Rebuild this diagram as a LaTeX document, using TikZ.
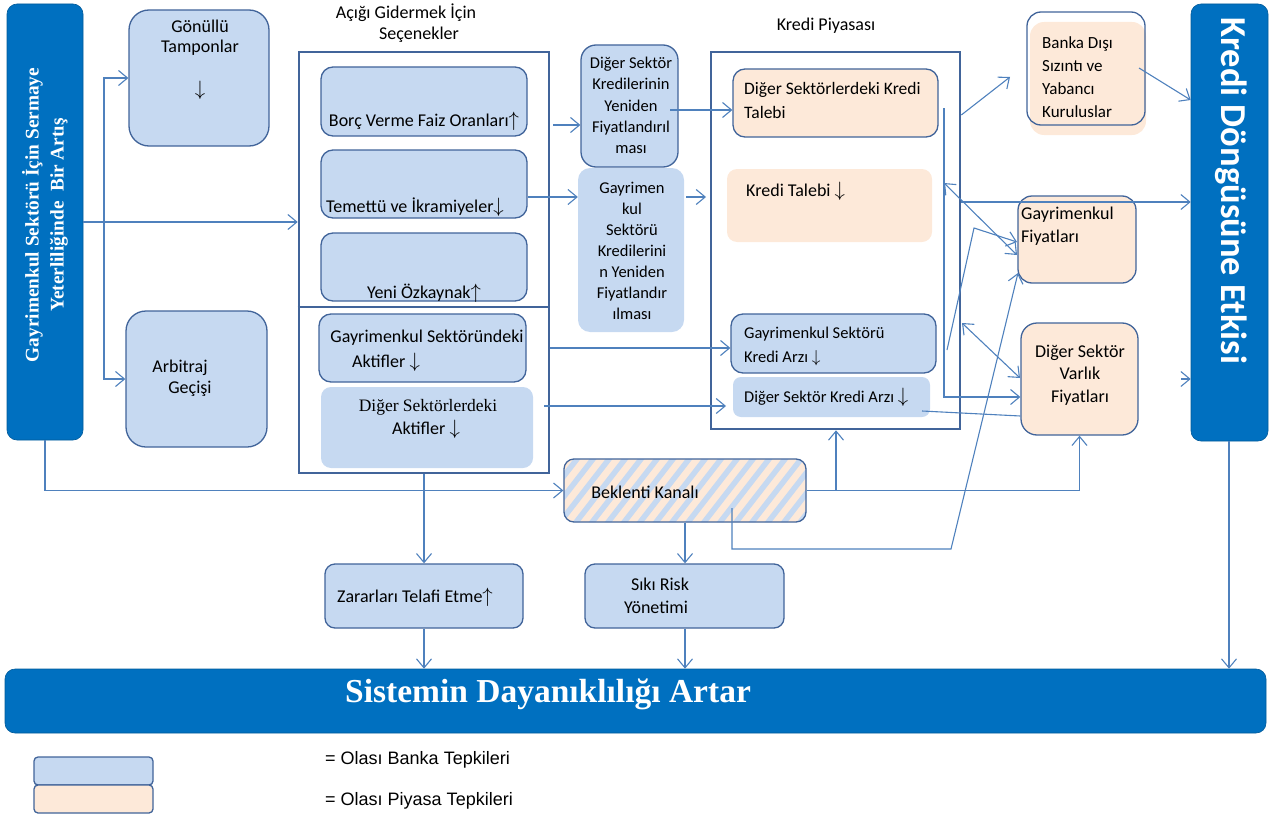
\documentclass[tikz,border=0pt]{standalone}
\usepackage{fontspec}
\setmainfont{Carlito}
\newfontfamily\tms{Liberation Serif}
\newfontfamily\arl{Liberation Sans}
\usetikzlibrary{arrows.meta,fit}
\definecolor{dblue}{HTML}{0070C0}
\definecolor{lblue}{HTML}{C6D9F1}
\definecolor{peach}{HTML}{FDE9D9}
\definecolor{bord}{HTML}{41649A}
\definecolor{conc}{HTML}{4F81BD}
\newcommand\UA{\smash{\fontsize{21}{21}\selectfont$\uparrow$}}
\newcommand\DA{\smash{\fontsize{21}{21}\selectfont$\downarrow$}}
\newcommand\DAs{\smash{\fontsize{18}{18}\selectfont$\downarrow$}}
\tikzset{
  bx/.style={draw=bord, line width=1.3pt, inner sep=0pt},
  lb/.style={bx, fill=lblue, rounded corners=12pt},
  lbn/.style={fill=lblue, inner sep=0pt, rounded corners=10pt},
  pb/.style={bx, fill=peach, rounded corners=12pt},
  pbn/.style={fill=peach, inner sep=0pt, rounded corners=10pt},
  db/.style={fill=dblue, draw=dblue!80!black, line width=0.6pt, inner sep=0pt, rounded corners=10pt},
  frame/.style={draw=bord, line width=2.6pt, inner sep=0pt},
  tx/.style={inner sep=0pt, font=\fontsize{18}{23}\selectfont},
  txs/.style={inner sep=0pt, font=\fontsize{16.5}{22}\selectfont},
  conn/.style={draw=conc, line width=1.1pt, -{Straight Barb[length=9pt,width=15pt]}},
  plain/.style={draw=conc, line width=1.1pt},
  both/.style={draw=conc, line width=1.1pt, {Straight Barb[length=9pt,width=15pt]}-{Straight Barb[length=9pt,width=15pt]}},
}
\begin{document}
\begin{tikzpicture}[x=1pt,y=-1pt]
\useasboundingbox (0,0) rectangle (1271,816);
% ---------- left column
\node[db, fit={(7,4)(83,440)}] (lbar) {};
\node[rotate=90, align=center, text=white, inner sep=0pt,
  font=\tms\bfseries\fontsize{19.3}{25}\selectfont] (lbart) at (45,215)
  {Gayrimenkul Sektörü İçin Sermaye\\Yeterliliğinde\ \ Bir Artış};
\node[lb, rounded corners=20pt, fit={(129,10)(269,146)}] (gon) {};
\node[tx] (gon1) at (200,26) {Gönüllü};
\node[tx] (gon2) at (200,48) {Tamponlar};
\node[tx] (gon3) at (200,95) {\DA};
\node[lb, rounded corners=20pt, fit={(126,311)(267,447)}] (arb) {};
\node[tx] (arb1) at (180,368) {Arbitraj};
\node[tx] (arb2) at (190,389) {Geçişi};
% ---------- options box
\node[tx] (optt1) at (406,13) {Açığı Gidermek İçin};
\node[tx] (optt2) at (419,35) {Seçenekler};
\node[frame, fit={(299,52)(549,473)}] (opts) {};
\draw[draw=bord, line width=2.6pt] (opts.west |- 0,307) -- (opts.east |- 0,307);
\node[lb, fit={(321,67)(527,136)}] (borc) {};
\node[tx] (borct) at (424,122) {Borç Verme Faiz Oranları\UA};
\node[lb, fit={(321,150)(527,218)}] (tem) {};
\node[tx, anchor=west] (temt) at (326,207) {Temettü ve İkramiyeler\DA};
\node[lb, fit={(321,233)(527,301)}] (yeni) {};
\node[tx] (yenit) at (424,293) {Yeni Özkaynak\UA};
\node[lb, fit={(319,314)(526,382)}] (gsa) {};
\node[tx] (gsat1) at (427,338) {Gayrimenkul Sektöründeki};
\node[tx] (gsat2) at (386,361) {Aktifler \DA};
\node[lbn, fit={(321,387)(533,468)}] (dsa) {};
\node[inner sep=0pt, font=\tms\fontsize{17.5}{22}\selectfont] (dsat1) at (428,407) {Diğer Sektörlerdeki};
\node[tx] (dsat2) at (426,428) {Aktifler \DA};
% ---------- repricing
\node[lb, rounded corners=15pt, fit={(581,45)(678,167)}] (dsr) {};
\node[inner sep=0pt, align=center, font=\fontsize{16.5}{21.2}\selectfont] (dsrt) at (631,105.5)
  {Diğer Sektör\\Kredilerinin\\Yeniden\\Fiyatlandırıl\\ması};
\node[lbn, rounded corners=12pt, fit={(578,168)(684,332)}] (gsr) {};
\node[inner sep=0pt, align=center, font=\fontsize{16.5}{21.1}\selectfont] (gsrt) at (632,251)
  {Gayrimen\\kul\\Sektörü\\Kredilerini\\n Yeniden\\Fiyatlandır\\ılması};
% ---------- credit market
\node[tx] (kpt) at (826,26) {Kredi Piyasası};
\node[frame, fit={(711,52)(960,429)}] (kp) {};
\node[pb, fit={(733,69)(938,137)}] (dkt) {};
\node[tx, anchor=west, align=left, font=\fontsize{17.5}{24}\selectfont] (dktt) at (744,100) {Diğer Sektörlerdeki Kredi\\Talebi};
\node[pbn, fit={(727,169)(932,242)}] (kt) {};
\node[tx, anchor=west] (ktt) at (746,190) {Kredi Talebi \DA};
\node[lb, fit={(731,314)(936,373)}] (gka) {};
\node[txs, anchor=west] (gkat1) at (744,334) {Gayrimenkul Sektörü};
\node[txs, anchor=west] (gkat2) at (744,357) {Kredi Arzı \DAs};
\node[lbn, rounded corners=8pt, fit={(733,377)(930,417)}] (dka) {};
\node[txs, anchor=west] (dkat) at (744,398) {Diğer Sektör Kredi Arzı \DA};
% ---------- right column
\node[fill=peach, inner sep=0pt, rounded corners=14pt, fit={(1030,22)(1146,135)}] (bdf) {};
\node[bx, rounded corners=14pt, fit={(1027,12)(1145,125)}] (bd) {};
\node[tx, anchor=west, align=left, font=\fontsize{17}{23}\selectfont] (bdt) at (1042,77.5) {Banka Dışı\\Sızıntı ve\\Yabancı\\Kuruluslar};
\node[pb, rounded corners=14pt, fit={(1018,196)(1136,283)}] (gf) {};
\node[tx, anchor=west, align=left] (gft) at (1021,226) {Gayrimenkul\\Fiyatları};
\node[pb, rounded corners=16pt, fit={(1021,323)(1138,435)}] (dsv) {};
\node[tx, align=center, font=\fontsize{18}{22.5}\selectfont] (dsvt) at (1080,375) {Diğer Sektör\\Varlık\\Fiyatları};
\node[db, fit={(1191,4)(1268,441)}] (kde) {};
\node[rotate=-90, text=white, inner sep=0pt, font=\bfseries\fontsize{36.5}{40}\selectfont] (kdet) at (1231,191) {Kredi Döngüsüne Etkisi};
% ---------- lower row
\begin{scope}
  \clip[rounded corners=10pt] (564,459) rectangle (806,522);
  \fill[peach] (560,455) rectangle (810,526);
  \foreach \i in {0,...,21} \draw[lblue, line width=5.5pt] ({490+\i*16},530) -- ++(62,-80);
\end{scope}
\node[bx, rounded corners=10pt, fit={(564,459)(806,522)}] (bk) {};
\node[tx] (bkt) at (645,492) {Beklenti Kanalı};
\node[lb, rounded corners=10pt, fit={(325,564)(523,628)}] (zar) {};
\node[tx] (zart) at (415,596) {Zararları Telafi Etme\UA};
\node[lb, rounded corners=10pt, fit={(585,564)(784,628)}] (sik) {};
\node[tx] (sikt1) at (660,584) {Sıkı Risk};
\node[tx] (sikt2) at (656,607) {Yönetimi};
\node[db, fit={(5,669)(1266,733)}] (sis) {};
\node[text=white, inner sep=0pt, font=\tms\bfseries\fontsize{33.5}{36}\selectfont] (sist) at (548,694) {Sistemin Dayanıklılığı Artar};
% ---------- legend
\node[lb, rounded corners=4pt, fit={(34,757)(153,785)}] (lg1) {};
\node[pb, rounded corners=4pt, fit={(34,785)(153,813)}] (lg2) {};
\node[inner sep=0pt, anchor=west, font=\arl\fontsize{18}{20}\selectfont] (lg1t) at (325,760) {= Olası Banka Tepkileri};
\node[inner sep=0pt, anchor=west, font=\arl\fontsize{18}{20}\selectfont] (lg2t) at (325,801) {= Olası Piyasa Tepkileri};
% ---------- connectors
\coordinate (jl) at (104,222);
\draw[conn] (lbar.east) -- (opts.west |- lbar.east);
\draw[conn] (jl) |- (gon.west);
\draw[conn] (jl) |- (arb.west);
\draw[conn] (553,125) -- (dsr.west |- 0,125);
\draw[conn] (tem.east |- 0,197) -- (gsr.west |- 0,197);
\draw[conn] (670,110) -- (dkt.west |- 0,110);
\draw[conn] (686,197) -- (706,197);
\draw[conn] (opts.east |- 0,348) -- (gka.west |- 0,348);
\draw[conn] (544,406) -- (726,406);
\draw[conn] (lbar.south -| 45,0) |- (bk.west);
\draw[conn] (opts.south -| 424,0) -- (zar.north -| 424,0);
\draw[conn] (zar.south -| 424,0) -- (sis.north -| 424,0);
\draw[conn] (bk.south -| 685,0) -- (sik.north -| 685,0);
\draw[conn] (sik.south -| 685,0) -- (sis.north -| 685,0);
\draw[conn] (bk.east) -| (dsv.south);
\draw[conn] (bk.east -| 836,0) -- (kp.south -| 836,0);
\coordinate (ftip) at (1018,273);
\draw[conn] (732,508) |- (951,549) -- (ftip);
\draw[conn] (944,108) |- (dsv.west |- 0,397);
\draw[both] (944,183) -- (1017,255);
\draw[conn] (947,350) -- (974,228) -- (1017,242);
\draw[both] (962,323) -- (1020,378);
\draw[plain] (922,411) -- (dsv.west |- 0,416);
\draw[conn] (kp.east |- 0,115) -- (1010,77);
\draw[conn] (kp.east |- 0,202) -- (kde.west |- 0,202);
\draw[conn] (1139,68) -- (kde.west |- 0,100);
\draw[conn] (1181,379) -- (kde.west |- 0,379);
\draw[conn] (kde.south -| 1229,0) -- (sis.north -| 1229,0);
\end{tikzpicture}
\end{document}
